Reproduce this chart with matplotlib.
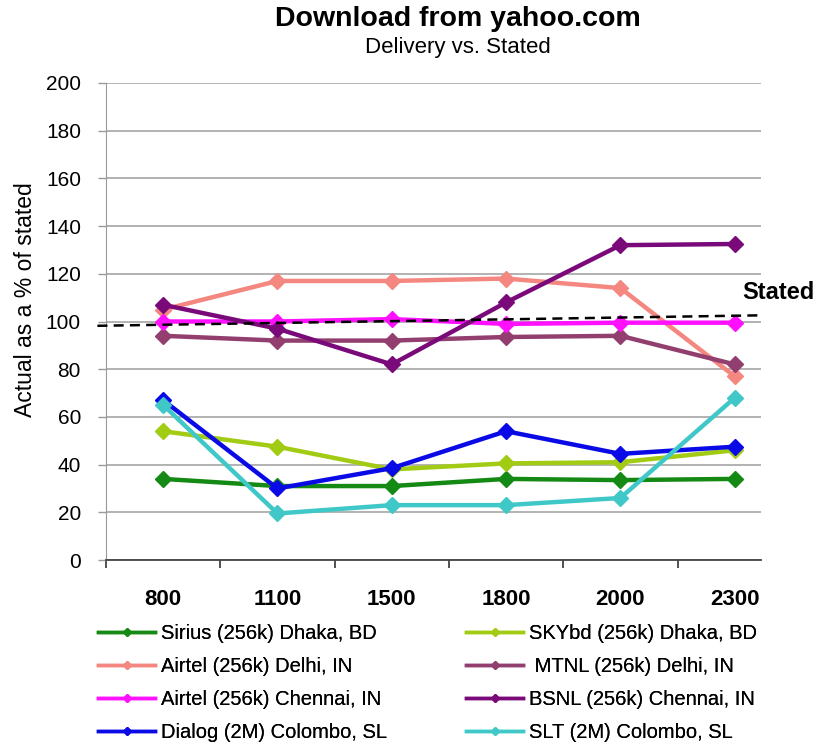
import matplotlib
matplotlib.use("Agg")
import matplotlib.pyplot as plt
import numpy as np

categories = ["800", "1100", "1500", "1800", "2000", "2300"]
series_names = [
    "Sirius (256k) Dhaka, BD",
    "SKYbd (256k) Dhaka, BD",
    "Airtel (256k) Delhi, IN",
    " MTNL (256k) Delhi, IN",
    "Airtel (256k) Chennai, IN",
    "BSNL (256k) Chennai, IN",
    "Dialog (2M) Colombo, SL",
    "SLT (2M) Colombo, SL",
]
sirius = [34, 31, 31, 34, 33.5, 34]
skybd = [54, 47.5, 38, 40.5, 41, 46]
airtel_delhi = [105, 117, 117, 118, 114, 77]
mtnl = [94, 92, 92, 93.5, 94, 82]
airtel_chennai = [100, 100, 101, 99, 99.5, 99.5]
bsnl = [107, 97, 82, 108, 132, 132.5]
dialog = [67, 30, 38.5, 54, 44.5, 47.5]
slt = [65, 19.5, 23, 23, 26, 68]
stated_line = [98.2, 102.6]  # dashed "Stated" reference, left/right ends

series_values = [sirius, skybd, airtel_delhi, mtnl, airtel_chennai, bsnl, dialog, slt]
colors = ["#148a14", "#a2cc14", "#f4877f", "#923f6f", "#ff10ff", "#7a0a7a", "#0a0ae6", "#40c8c8"]

plt.rcParams['font.family'] = ['Liberation Sans', 'DejaVu Sans']

fig = plt.figure(figsize=(8.23, 7.48), dpi=100)
ax = fig.add_axes([106/823, 1-560/748, (761-106)/823, (560-83)/748])

x = np.arange(len(categories))
handles = []
for name, vals, c in zip(series_names, series_values, colors):
    h, = ax.plot(x, vals, color=c, lw=3.2, marker='D', ms=8, mec=c, mfc=c,
                 label=name, solid_joinstyle='round', clip_on=False, zorder=3)
    handles.append(h)

# stated dashed line
xl, xr = -0.575, 5.24
ax.plot([xl, xr], stated_line, color='black', ls=(0, (4, 2.5)), lw=1.8, clip_on=False, zorder=4)
ax.text(5.38, 112, "Stated", fontsize=17, fontweight='bold', ha='center', va='center')

ax.set_xlim(-0.5, 5.23)
ax.set_ylim(0, 200)
ax.set_yticks(range(0, 201, 20))
ax.set_xticks(np.arange(-0.5, 5.0, 1.0))
ax.set_xticks(x, minor=True)
ax.set_xticklabels([])
ax.set_xticklabels(categories, minor=True, fontweight='bold')
ax.tick_params(axis='x', which='minor', length=0, pad=21, labelsize=16)
ax.tick_params(axis='x', which='major', length=6, width=1.2, color='#333333', direction='out')
ax.tick_params(axis='y', length=6, width=1, color='#999999', labelsize=15, pad=12)
ax.grid(axis='y', color='#a6a6a6', lw=1.2)
ax.set_axisbelow(True)
for s in ['top', 'right']:
    ax.spines[s].set_visible(False)
ax.spines['left'].set_color('#999999')
ax.spines['bottom'].set_color('#444444')
ax.spines['bottom'].set_linewidth(1.3)

fig.text(26/823, 1-300/748, "Actual as a % of stated", rotation=90, fontsize=16.5,
         ha='center', va='center')

fig.text(458/823, 1-19/748, "Download from yahoo.com", fontsize=20.5, fontweight='bold',
         ha='center', va='center')
fig.text(458/823, 1-47/748, "Delivery vs. Stated", fontsize=16,
         ha='center', va='center')

# legend: two columns placed separately
def leg_handle(i):
    h = handles[i]
    lh, = ax.plot([], [], color=h.get_color(), lw=2.5, marker='D', ms=4.5)
    return lh

for cols, xpos in (([0, 2, 4, 6], 98), ([1, 3, 5, 7], 466)):
    lg = fig.legend([leg_handle(i) for i in cols], [series_names[i] for i in cols],
                    loc='upper left', bbox_to_anchor=(xpos/823, 1-624/748),
                    frameon=False, fontsize=14.5, handlelength=2.85, handletextpad=0.3,
                    labelspacing=0.7, borderpad=0, borderaxespad=0)
    fig.add_artist(lg)

fig.savefig("out.png", dpi=100)
